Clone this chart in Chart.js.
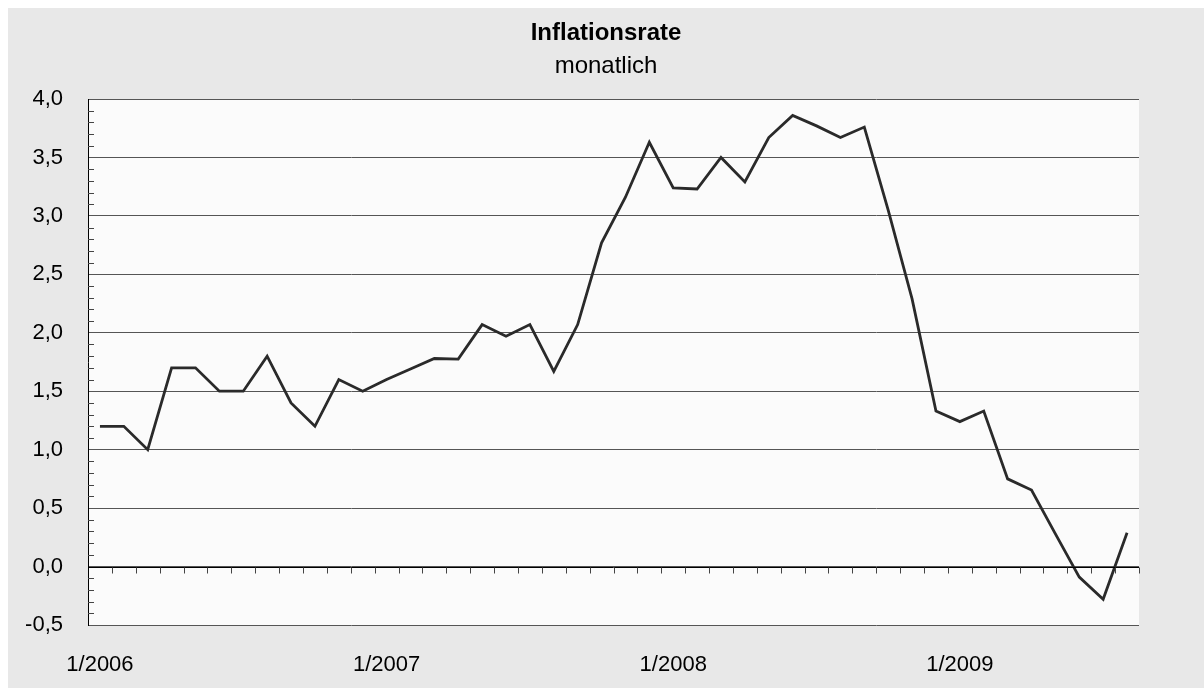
<!DOCTYPE html>
<html>
<head>
<meta charset="utf-8">
<script src="https://cdn.jsdelivr.net/npm/chart.js@4"></script>
<style>
  html, body { margin: 0; padding: 0; background: #ffffff; }
  #wrap { position: absolute; left: 8px; top: 8px; width: 1196px; height: 680px; background: #e8e8e8; }
</style>
</head>
<body>
<div id="wrap"><canvas id="chart" width="1196" height="680"></canvas></div>
<script>
// monthly inflation, Jan 2006 .. Aug 2009
const years = [2006, 2007, 2008, 2009];
const months = [];
years.forEach(y => {
    for (let m = 1; m <= 12; m++) {
        if (y === 2009 && m > 8) break;
        months.push(m + '/' + y);
    }
});

const rate = [
    1.2, 1.2, 1.0, 1.7, 1.7, 1.5, 1.5, 1.8, 1.4, 1.2, 1.6, 1.5,
    1.6, 1.69, 1.78, 1.775, 2.07, 1.97, 2.07, 1.67, 2.07, 2.77, 3.16, 3.63,
    3.24, 3.23, 3.5, 3.29, 3.67, 3.86, 3.77, 3.67, 3.76, 3.05, 2.29, 1.33,
    1.24, 1.33, 0.75, 0.655, 0.28, -0.09, -0.28, 0.29
];

const yTicks = [-0.5, 0, 0.5, 1, 1.5, 2, 2.5, 3, 3.5, 4];

const titleText = 'Inflationsrate';
const subtitleText = 'monatlich';

const fontFam = '"Liberation Sans", Arial, sans-serif';

// plot background, titles, zero axis with month ticks, minor y ticks
const decor = {
    id: 'decor',
    beforeDraw(chart) {
        const { ctx, chartArea: a, width } = chart;
        ctx.save();
        ctx.fillStyle = '#fbfbfb';
        ctx.fillRect(a.left, a.top, a.right - a.left, a.bottom - a.top);
        ctx.fillStyle = '#000';
        ctx.textAlign = 'center';
        ctx.textBaseline = 'middle';
        ctx.font = 'bold 24px ' + fontFam;
        ctx.fillText(titleText, width / 2, 25);
        ctx.font = '24px ' + fontFam;
        ctx.fillText(subtitleText, width / 2, 58);
        ctx.restore();
    },
    afterDatasetsDraw(chart) {
        const { ctx, chartArea: a, scales: { x, y } } = chart;
        ctx.save();
        const y0 = Math.round(y.getPixelForValue(0)) + 0.5;
        ctx.strokeStyle = '#000';
        ctx.lineWidth = 1;
        ctx.beginPath();
        ctx.moveTo(a.left, y0);
        ctx.lineTo(a.right, y0);
        ctx.stroke();

        // month ticks between categories
        ctx.strokeStyle = '#444';
        ctx.beginPath();
        const half = (x.getPixelForValue(1) - x.getPixelForValue(0)) / 2;
        for (let i = 0; i < months.length; i++) {
            const px = Math.round(x.getPixelForValue(i) + half) + 0.5;
            ctx.moveTo(px, y0);
            ctx.lineTo(px, y0 + 6);
        }
        ctx.stroke();

        // minor ticks on the y axis every 0.1
        ctx.beginPath();
        for (let k = -5; k <= 40; k++) {
            if (k % 5 === 0) continue;
            const py = Math.round(y.getPixelForValue(k / 10)) + 0.5;
            ctx.moveTo(a.left, py);
            ctx.lineTo(a.left + 6, py);
        }
        ctx.stroke();
        ctx.restore();
    }
};

new Chart(document.getElementById('chart'), {
    type: 'line',
    data: {
        labels: months,
        datasets: [{
            data: rate,
            borderColor: '#2a2a2a',
            borderWidth: 2.8,
            pointRadius: 0,
            tension: 0,
            fill: false
        }]
    },
    options: {
        responsive: false,
        animation: false,
        layout: { padding: { top: 91, right: 65, bottom: 0, left: 0 } },
        plugins: {
            legend: { display: false },
            tooltip: { enabled: false },
            title: { display: false },
            subtitle: { display: false }
        },
        scales: {
            x: {
                offset: true,
                grid: { display: false, drawTicks: false },
                border: { display: false },
                ticks: {
                    autoSkip: false,
                    maxRotation: 0,
                    padding: 27,
                    color: '#000',
                    font: { family: fontFam, size: 22 },
                    callback: function (v, i) {
                        const lbl = months[i];
                        return lbl.startsWith('1/') ? lbl : '';
                    }
                },
                afterFit: s => { s.height = 63; }
            },
            y: {
                min: -0.5,
                max: 4,
                afterBuildTicks: s => { s.ticks = yTicks.map(v => ({ value: v })); },
                grid: { color: '#555', lineWidth: 1, drawTicks: false },
                border: { display: true, color: '#000', width: 1 },
                ticks: {
                    padding: 25,
                    color: '#000',
                    font: { family: fontFam, size: 22 },
                    callback: v => v.toFixed(1).replace('.', ',')
                },
                afterFit: s => { s.width = 80; }
            }
        }
    },
    plugins: [decor]
});
</script>
</body>
</html>
